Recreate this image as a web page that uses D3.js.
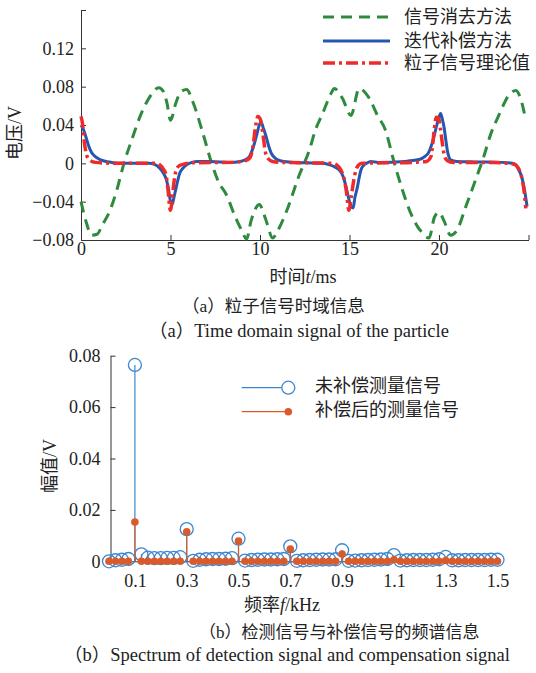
<!DOCTYPE html>
<html><head><meta charset="utf-8">
<script src="https://cdn.jsdelivr.net/npm/d3@7"></script>
<style>
html,body{margin:0;padding:0;background:#fff;}
text{font-family:"Liberation Serif","Noto Sans CJK SC",serif;fill:#222;}
</style></head>
<body><div id="chart"></div>
<script>
// ---------- (a) time domain ----------
const greenT = [0,0.3,0.6,0.9,1.2,1.6,2.0,2.4,2.9,3.3,3.8,4.35,4.6,4.8,5.0,5.3,5.6,5.9,6.25,6.8,7.3,7.7,8.1,8.6,9.0,9.25,9.5,9.97,10.2,10.4,10.7,11.0,11.46,12.2,12.76,13.1,13.5,13.97,14.15,14.6,15.08,15.54,16.1,16.56,17.0,17.45,17.96,18.42,18.8,19.1,19.44,19.75,20.0,20.28,20.65,21.0,21.5,21.97,22.5,22.9,23.34,23.9,24.3,24.55,24.85];
const greenV = [-0.040,-0.062,-0.075,-0.074,-0.064,-0.050,-0.028,0.000,0.028,0.049,0.068,0.079,0.075,0.063,0.045,0.063,0.075,0.077,0.064,0.032,0.000,-0.020,-0.032,-0.055,-0.071,-0.079,-0.060,-0.043,-0.052,-0.063,-0.078,-0.070,-0.051,-0.012,0.014,0.035,0.052,0.073,0.078,0.068,0.050,0.078,0.068,0.050,0.035,0.004,-0.028,-0.052,-0.066,-0.073,-0.078,-0.056,-0.051,-0.060,-0.075,-0.070,-0.045,-0.021,0.007,0.031,0.050,0.071,0.076,0.068,0.045];

const blueT = [0,0.1,0.2,0.3,0.45,0.6,0.8,1.0,1.3,1.7,2.2,3.8,4.1,4.4,4.6,4.77,4.9,5.0,5.09,5.2,5.33,5.52,5.7,5.9,6.2,6.5,7.2,8.3,8.9,9.2,9.41,9.55,9.69,9.82,9.93,10.05,10.2,10.34,10.5,10.62,10.9,11.2,11.6,12.5,13.5,13.9,14.2,14.43,14.65,14.8,14.95,15.08,15.2,15.3,15.45,15.55,15.64,15.8,15.95,16.2,16.6,18.1,18.5,18.9,19.2,19.44,19.6,19.81,19.95,20.09,20.2,20.28,20.37,20.46,20.55,20.65,21.0,22.0,23.5,24.1,24.3,24.46,24.6,24.74,24.92];
const blueV = [0.040,0.037,0.032,0.026,0.017,0.011,0.007,0.0045,0.0025,0.001,0.0,0.0,-0.001,-0.005,-0.010,-0.017,-0.028,-0.040,-0.043,-0.035,-0.024,-0.010,-0.005,-0.0016,0.001,0.002,0.002,0.001,0.002,0.004,0.007,0.013,0.021,0.030,0.038,0.0435,0.036,0.028,0.017,0.011,0.0045,0.0025,0.0015,0.0005,0.0,-0.0016,-0.004,-0.007,-0.014,-0.024,-0.036,-0.045,-0.0465,-0.036,-0.024,-0.014,-0.007,-0.002,0.0,0.002,0.001,0.002,0.003,0.004,0.007,0.012,0.020,0.035,0.045,0.052,0.045,0.038,0.026,0.014,0.007,0.0036,0.002,0.0015,0.001,0.0,-0.002,-0.007,-0.013,-0.024,-0.045];

const redT = [0,0.08,0.17,0.28,0.45,0.8,2.0,4.2,4.4,4.6,4.75,4.86,4.99,5.08,5.16,5.3,5.45,5.7,6.2,8.5,9.2,9.45,9.6,9.75,9.88,10.02,10.16,10.3,10.45,10.7,11.2,14.0,14.3,14.52,14.7,14.83,14.96,15.1,15.2,15.36,15.5,15.7,18.5,19.3,19.55,19.65,19.74,19.85,19.98,20.08,20.18,20.3,20.45,20.8,23.0,24.2,24.4,24.55,24.68,24.76,24.85];
const redV = [0.049,0.042,0.025,0.011,0.004,0.001,0.0,0.0,-0.0016,-0.006,-0.012,-0.0275,-0.049,-0.040,-0.025,-0.008,-0.003,-0.001,0.0005,0.001,0.003,0.006,0.017,0.038,0.049,0.046,0.031,0.012,0.005,0.002,0.001,0.0,-0.002,-0.007,-0.016,-0.030,-0.049,-0.035,-0.022,-0.007,-0.002,0.0,0.001,0.002,0.007,0.020,0.036,0.048,0.047,0.036,0.022,0.008,0.003,0.001,0.001,-0.001,-0.004,-0.010,-0.020,-0.030,-0.047];

const topXTicks = [0,5,10,15,20,25];
const topYTicks = [-0.08,-0.04,0,0.04,0.08,0.12,0.16];
const topLegend = ["信号消去方法","迭代补偿方法","粒子信号理论值"];

// ---------- (b) spectrum ----------
const freq = [0,0.025,0.05,0.075,0.1,0.125,0.15,0.175,0.2,0.225,0.25,0.275,0.3,0.325,0.35,0.375,0.4,0.425,0.45,0.475,0.5,0.525,0.55,0.575,0.6,0.625,0.65,0.675,0.7,0.725,0.75,0.775,0.8,0.825,0.85,0.875,0.9,0.925,0.95,0.975,1.0,1.025,1.05,1.075,1.1,1.125,1.15,1.175,1.2,1.225,1.25,1.275,1.3,1.325,1.35,1.375,1.4,1.425,1.45,1.475,1.5];
const uncompV = [0.0000,0.0004,0.0006,0.0009,0.0764,0.0027,0.0014,0.0012,0.0012,0.0013,0.0013,0.0016,0.0125,0.0002,0.0006,0.0008,0.0009,0.0009,0.0010,0.0012,0.0088,0.0003,0.0005,0.0006,0.0007,0.0007,0.0008,0.0009,0.0058,0.0002,0.0004,0.0005,0.0006,0.0007,0.0007,0.0008,0.0043,0.0002,0.0003,0.0004,0.0005,0.0006,0.0007,0.0009,0.0024,0.0003,0.0004,0.0005,0.0005,0.0005,0.0006,0.0008,0.0017,0.0004,0.0004,0.0005,0.0005,0.0005,0.0005,0.0006,0.0006];
const compV = [0,0,0,0,0.0153,0,0,0,0,0,0,0,0.0115,0,0,0,0,0,0,0,0.0079,0,0,0,0,0,0,0,0.0048,0,0,0,0,0,0,0,0.0028,0,0,0,0,0,0,0,0.0006,0,0,0,0,0,0,0,0.0003,0,0,0,0,0,0,0,0];
const botXTickLabels = [0.1,0.3,0.5,0.7,0.9,1.1,1.3,1.5];
const botYTicks = [0,0.02,0.04,0.06,0.08];
const botLegend = ["未补偿测量信号","补偿后的测量信号"];

// ---------- drawing ----------
const W = 536, H = 673;
const svg = d3.select("#chart").append("svg").attr("width", W).attr("height", H);
svg.append("rect").attr("width", W).attr("height", H).attr("fill", "#fff");

const axisColor = "#333";
const cGreen = "#2e8b3e", cBlue = "#2457b0", cRed = "#ee2a2a";
const cB2 = "#3c87d0", cO2 = "#d95b2b";
const fmtNum = d => d === 0 ? "0" : d3.format(".2f")(d).replace("-", "\u2212");

function styleAxis(g) {
  g.selectAll("path.domain").attr("stroke", axisColor).attr("stroke-width", 1);
  g.selectAll(".tick line").attr("stroke", axisColor).attr("stroke-width", 1);
  g.selectAll(".tick text").attr("fill", "#222").style("font-family", '"Liberation Serif",serif').style("font-size", "18px");
}

// top chart
const x1 = d3.scaleLinear().domain([0, 25]).range([81, 528.5]);
const y1 = d3.scaleLinear().domain([-0.08, 0.16]).range([240, 10]);

const gx1 = svg.append("g").attr("transform", `translate(0,${y1(-0.08)})`)
  .call(d3.axisBottom(x1).tickValues(topXTicks).tickSizeInner(-5).tickSizeOuter(0).tickPadding(2)
    .tickFormat(d => d === 25 ? "" : d));
styleAxis(gx1);
const gy1 = svg.append("g").attr("transform", `translate(${x1(0)},0)`)
  .call(d3.axisLeft(y1).tickValues(topYTicks).tickSizeInner(-5).tickSizeOuter(0).tickPadding(7)
    .tickFormat(d => d === 0.16 ? "" : fmtNum(d)));
styleAxis(gy1);

const line1 = d3.line().x(d => x1(d[0])).y(d => y1(d[1])).curve(d3.curveMonotoneX);
const zip = (a, b) => a.map((v, i) => [v, b[i]]);

svg.append("path").datum(zip(greenT, greenV)).attr("d", line1)
  .attr("fill", "none").attr("stroke", cGreen).attr("stroke-width", 3).attr("stroke-dasharray", "11,7");
svg.append("path").datum(zip(blueT, blueV)).attr("d", line1)
  .attr("fill", "none").attr("stroke", cBlue).attr("stroke-width", 3);
svg.append("path").datum(zip(redT, redV)).attr("d", line1)
  .attr("fill", "none").attr("stroke", cRed).attr("stroke-width", 3.5).attr("stroke-dasharray", "12,4,3,4");

// top legend
const legY = [17, 41, 63];
const legStyles = [
  {c: cGreen, w: 3, dash: "11,7"},
  {c: cBlue, w: 3, dash: null},
  {c: cRed, w: 3.5, dash: "12,4,3,4"}
];
topLegend.forEach((t, i) => {
  const l = svg.append("line").attr("x1", 323).attr("x2", 390).attr("y1", legY[i]).attr("y2", legY[i])
    .attr("stroke", legStyles[i].c).attr("stroke-width", legStyles[i].w);
  if (legStyles[i].dash) l.attr("stroke-dasharray", legStyles[i].dash);
  svg.append("text").attr("x", 404).attr("y", legY[i]).attr("dy", "0.36em")
    .style("font-size", "18px").text(t);
});

// top axis labels
svg.append("text").attr("transform", "translate(15,133) rotate(-90)").attr("dy", "0.36em")
  .attr("text-anchor", "middle").style("font-size", "18px").text("电压/V");
const tl = svg.append("text").attr("x", 303).attr("y", 283).attr("text-anchor", "middle").style("font-size", "18px");
tl.append("tspan").text("时间");
tl.append("tspan").style("font-style", "italic").text("t");
tl.append("tspan").text("/ms");

svg.append("text").attr("x", 182).attr("y", 312).style("font-size", "17.5px").text("（a）粒子信号时域信息");
svg.append("text").attr("x", 149).attr("y", 337).style("font-size", "18.5px").text("（a）Time domain signal of the particle");

// bottom chart
const x2 = d3.scaleLinear().domain([0, 1.5]).range([109, 497.5]);
const y2 = d3.scaleLinear().domain([0, 0.08]).range([561.3, 355.7]);

const minorTicks = freq.filter((f, i) => i % 2 === 0 && f > 0);
const gx2 = svg.append("g").attr("transform", `translate(0,${y2(0)})`)
  .call(d3.axisBottom(x2).tickValues(minorTicks).tickSizeInner(-4).tickSizeOuter(0).tickPadding(13)
    .tickFormat(d => botXTickLabels.some(v => Math.abs(v - d) < 1e-6) ? d3.format(".1f")(d) : ""));
styleAxis(gx2);
const gy2 = svg.append("g").attr("transform", `translate(${x2(0) + 1.5},0)`)
  .call(d3.axisLeft(y2).tickValues(botYTicks).tickSizeInner(-5).tickSizeOuter(0).tickPadding(10)
    .tickFormat(fmtNum));
styleAxis(gy2);

const specU = zip(freq, uncompV), specC = zip(freq, compV);
svg.append("g").selectAll("line").data(specU).join("line")
  .attr("x1", d => x2(d[0])).attr("x2", d => x2(d[0])).attr("y1", y2(0)).attr("y2", d => y2(d[1]))
  .attr("stroke", cB2).attr("stroke-width", 1.2);
svg.append("g").selectAll("circle").data(specU).join("circle")
  .attr("cx", d => x2(d[0])).attr("cy", d => y2(d[1])).attr("r", 6.5)
  .attr("fill", "none").attr("stroke", cB2).attr("stroke-width", 1.3);
svg.append("g").selectAll("line").data(specC).join("line")
  .attr("x1", d => x2(d[0])).attr("x2", d => x2(d[0])).attr("y1", y2(0)).attr("y2", d => y2(d[1]))
  .attr("stroke", cO2).attr("stroke-width", 1.2);
svg.append("g").selectAll("circle").data(specC).join("circle")
  .attr("cx", d => x2(d[0])).attr("cy", d => y2(d[1])).attr("r", 3.8)
  .attr("fill", cO2);

// bottom legend
const leg2Y = [387.7, 411.7];
svg.append("line").attr("x1", 241.7).attr("x2", 293).attr("y1", leg2Y[0]).attr("y2", leg2Y[0]).attr("stroke", cB2).attr("stroke-width", 1.2);
svg.append("circle").attr("cx", 288.3).attr("cy", leg2Y[0]).attr("r", 6.5).attr("fill", "#fff").attr("stroke", cB2).attr("stroke-width", 1.3);
svg.append("line").attr("x1", 241.7).attr("x2", 288.3).attr("y1", leg2Y[1]).attr("y2", leg2Y[1]).attr("stroke", cO2).attr("stroke-width", 1.2);
svg.append("circle").attr("cx", 288.3).attr("cy", leg2Y[1]).attr("r", 3.8).attr("fill", cO2);
botLegend.forEach((t, i) => {
  svg.append("text").attr("x", 315).attr("y", leg2Y[i] - 2.5).attr("dy", "0.36em").style("font-size", "18px").text(t);
});

svg.append("text").attr("transform", "translate(50,466) rotate(-90)").attr("dy", "0.36em")
  .attr("text-anchor", "middle").style("font-size", "18px").text("幅值/V");
const fl = svg.append("text").attr("x", 282).attr("y", 611).attr("text-anchor", "middle").style("font-size", "18px");
fl.append("tspan").text("频率");
fl.append("tspan").style("font-style", "italic").text("f");
fl.append("tspan").text("/kHz");

svg.append("text").attr("x", 199).attr("y", 638).style("font-size", "17px").text("（b）检测信号与补偿信号的频谱信息");
svg.append("text").attr("x", 64).attr("y", 661).style("font-size", "18.5px").text("（b）Spectrum of detection signal and compensation signal");
</script></body></html>
